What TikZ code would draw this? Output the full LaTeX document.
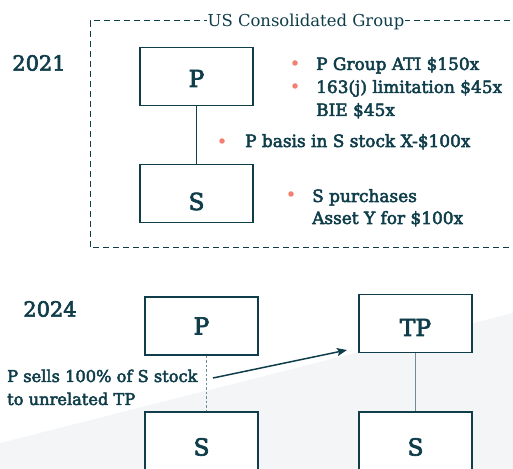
\documentclass[tikz,border=0pt]{standalone}
\usepackage{fontspec}
\setmainfont{DejaVu Serif}
\newfontfamily\semibold{DejaVu Serif}[FakeBold=3]
\usetikzlibrary{arrows.meta}
\definecolor{teal1}{HTML}{0F3D4A}
\definecolor{bullet1}{HTML}{F37E72}
\definecolor{gray1}{HTML}{F4F5F7}
\definecolor{dot1}{HTML}{6F8C96}
\tikzset{
  entity/.style={draw=teal1, line width=1.3pt, fill=white, minimum width=113bp, minimum height=58bp, inner sep=0pt, text depth=0pt, font=\semibold\fontsize{23.5}{27}\selectfont, text=teal1},
  note/.style={anchor=base west, inner sep=0pt, font=\semibold\fontsize{17}{20}\selectfont, text=teal1},
  bul/.style={circle, fill=bullet1, inner sep=0pt, minimum size=5.5bp},
  year/.style={font=\semibold\fontsize{21}{24}\selectfont, text=teal1}
}
\begin{document}
\begin{tikzpicture}
  \useasboundingbox (0bp,0bp) rectangle (513bp,469bp);
  \clip (0bp,0bp) rectangle (513bp,469bp);
  \fill[gray1] (0bp,26bp) -- (513bp,156bp) -- (513bp,0bp) -- (0bp,0bp) -- cycle;

  % 2021
  \draw[teal1, line width=1pt, dash pattern=on 6bp off 4bp] (520bp,448bp) -- (90bp,448bp) -- (90bp,221bp) -- (520bp,221bp);
  \node (group) at (306bp,447bp) [fill=white, inner sep=1pt, font=\fontsize{16.5}{19}\selectfont, text=teal1] {US Consolidated Group};
  \node (y2021) at (39bp,406bp) [year] {2021};

  \node (P1) at (196.5bp,392.5bp) [entity, text height=21bp] {P};
  \node (S1) at (196.5bp,275.5bp) [entity, text height=33bp] {S};
  \draw (P1) -- (S1) [line width=0.8pt, teal1];

  \node (b1) at (295bp,406bp) [bul] {};
  \node (n1) at (316bp,399bp) [note] {P Group ATI \$150x};
  \node (b2) at (295bp,383bp) [bul] {};
  \node (n2) at (316bp,376bp) [note] {163(j) limitation \$45x};
  \node (n3) at (316bp,353bp) [note] {BIE \$45x};
  \node (b3) at (222bp,328bp) [bul] {};
  \node (n4) at (245bp,322bp) [note] {P basis in S stock X-\$100x};
  \node (b4) at (291bp,275bp) [bul] {};
  \node (n5) at (312bp,267bp) [note] {S purchases};
  \node (n6) at (312bp,245bp) [note] {Asset Y for \$100x};

  % 2024
  \node (y2024) at (50bp,160bp) [year] {2024};
  \node (P2) at (201.5bp,143bp) [entity, text height=17bp] {P};
  \node (S2) at (201.5bp,28bp) [entity, text height=29bp] {S};
  \node (TP) at (415.5bp,145.5bp) [entity, text height=25bp] {TP};
  \node (S3) at (415.5bp,28bp) [entity, text height=29bp] {S};

  \draw ([xshift=4.5bp]P2.south) -- ([xshift=4.5bp]S2.north) [line width=1pt, dot1, dash pattern=on 2.5bp off 2bp];
  \draw (TP) -- (S3) [line width=0.8pt, dot1];

  \node (sale1) at (7bp,87bp) [note, font=\semibold\fontsize{16.3}{19}\selectfont] {P sells 100\% of S stock};
  \node (sale2) at (7bp,64bp) [note, font=\semibold\fontsize{16.3}{19}\selectfont] {to unrelated TP};
  \coordinate (saleA) at (213bp,91bp);
  \coordinate (saleB) at (347bp,119bp);
  \draw (saleA) -- (saleB) [line width=1.5pt, teal1, -{Stealth[length=10bp,width=8bp,inset=2bp]}];
\end{tikzpicture}
\end{document}
